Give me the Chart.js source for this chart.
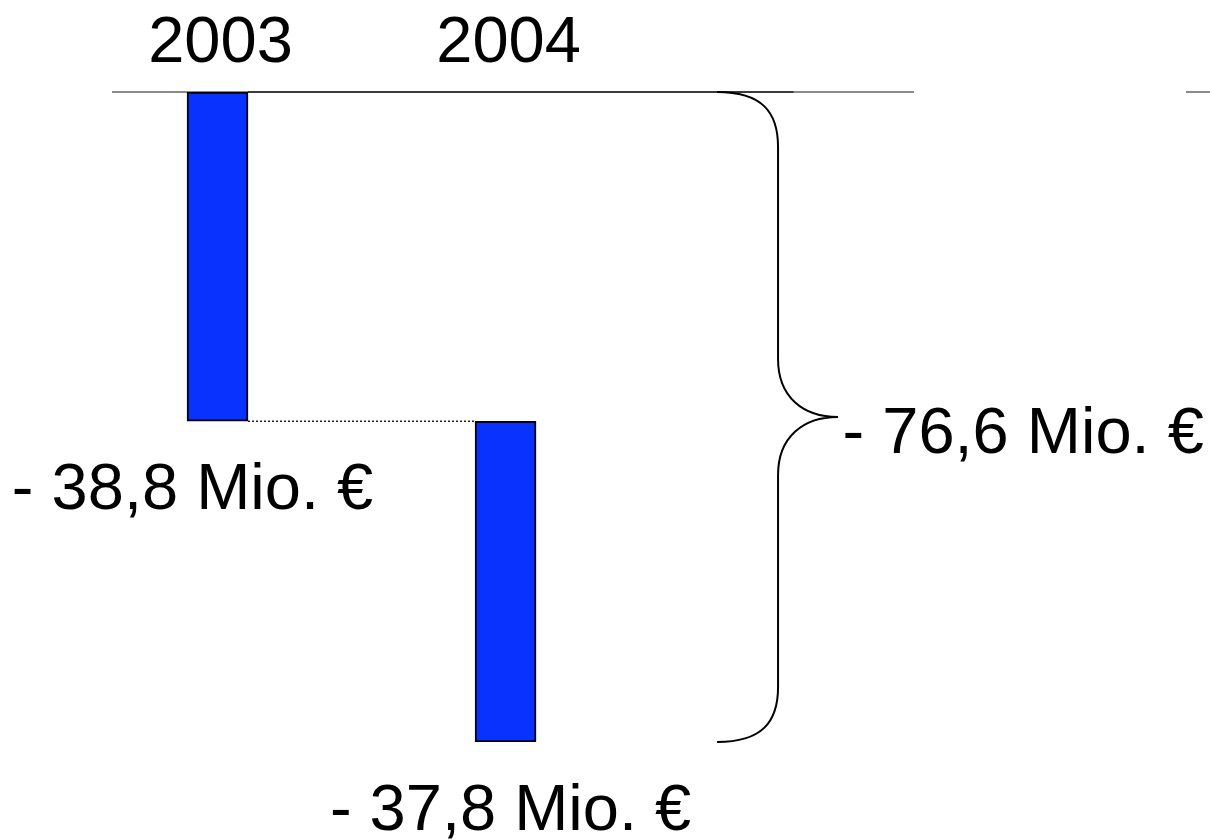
<!DOCTYPE html>
<html>
<head>
<meta charset="utf-8">
<script src="https://cdn.jsdelivr.net/npm/chart.js@4.4.1/dist/chart.umd.min.js"></script>
<style>
html,body{margin:0;padding:0;background:#fff;}
#wrap{width:1210px;height:840px;position:relative;}
</style>
</head>
<body>
<div id="wrap"><canvas id="c" width="1210" height="840"></canvas></div>
<script>
// ---- data ----
const categories = ['2003', '2004'];
const changes = [-38.8, -37.8];
const totalChange = -76.6;
const valueLabels = ['- 38,8 Mio. €', '- 37,8 Mio. €'];
const totalLabel = '- 76,6 Mio. €';

// floating bars built from the changes (waterfall)
const floating = [];
let run = 0;
changes.forEach((v, i) => {
  floating.push({ x: i + 1, y: [run, run + v] });
  run += v;
});

const FONT = '65px "Liberation Sans", Arial, sans-serif';

const decor = {
  id: 'decor',
  beforeDatasetsDraw(chart) {
    const { ctx, chartArea, scales } = chart;
    const xs = scales.x, ys = scales.y;
    const y0 = ys.getPixelForValue(0);
    const meta = chart.getDatasetMeta(0);
    const b1 = meta.data[0], b2 = meta.data[1];
    const half = b1.width / 2;
    ctx.save();
    // axis line
    ctx.strokeStyle = '#8a8a8a';
    ctx.lineWidth = 2;
    ctx.beginPath();
    ctx.moveTo(chartArea.left, y0); ctx.lineTo(chartArea.right, y0);
    ctx.moveTo(1186, y0); ctx.lineTo(1210, y0);
    ctx.stroke();
    // dark top connector
    ctx.strokeStyle = '#222';
    ctx.lineWidth = 1.5;
    ctx.beginPath();
    ctx.moveTo(b1.x + half, y0); ctx.lineTo(xs.getPixelForValue(3), y0);
    ctx.stroke();
    // dotted connector between bars
    const yMid = ys.getPixelForValue(changes[0]);
    ctx.setLineDash([2, 2]);
    ctx.lineWidth = 1.5;
    ctx.beginPath();
    ctx.moveTo(b1.x + half, yMid); ctx.lineTo(b2.x - half, yMid);
    ctx.stroke();
    ctx.setLineDash([]);
    // brace
    const yTop = y0, yBot = ys.getPixelForValue(totalChange);
    const yC = (yTop + yBot) / 2;
    const xL = b2.x + half + 181, xV = xL + 61, xT = xV + 60;
    ctx.strokeStyle = '#000';
    ctx.lineWidth = 2;
    ctx.beginPath();
    ctx.moveTo(xL, yTop);
    ctx.bezierCurveTo(xL + 45, yTop, xV, yTop + 20, xV, yTop + 55);
    ctx.lineTo(xV, yC - 58);
    ctx.bezierCurveTo(xV, yC - 20, xV + 25, yC, xT, yC);
    ctx.bezierCurveTo(xV + 25, yC, xV, yC + 20, xV, yC + 58);
    ctx.lineTo(xV, yBot - 55);
    ctx.bezierCurveTo(xV, yBot - 20, xL + 45, yBot, xL, yBot);
    ctx.stroke();
    ctx.restore();
  },
  afterDatasetsDraw(chart) {
    const { ctx, scales } = chart;
    const xs = scales.x, ys = scales.y;
    const meta = chart.getDatasetMeta(0);
    ctx.save();
    ctx.fillStyle = '#000';
    ctx.font = FONT;
    ctx.textBaseline = 'alphabetic';
    ctx.textAlign = 'center';
    const y0 = ys.getPixelForValue(0);
    categories.forEach((c, i) => {
      ctx.fillText(c, xs.getPixelForValue(i + 1) + 3, y0 - 30);
    });
    let cum = 0;
    changes.forEach((v, i) => {
      cum += v;
      const bx = meta.data[i].x;
      ctx.fillText(valueLabels[i], bx + (i === 0 ? -25 : 5), ys.getPixelForValue(cum) + 88);
    });
    ctx.textAlign = 'left';
    const yC = (ys.getPixelForValue(0) + ys.getPixelForValue(totalChange)) / 2;
    ctx.fillText(totalLabel, meta.data[1].x + 337, yC + 36);
    ctx.restore();
  }
};

new Chart(document.getElementById('c'), {
  type: 'bar',
  data: {
    datasets: [{
      data: floating,
      backgroundColor: '#0A32FF',
      borderColor: '#000',
      borderWidth: 2,
      borderSkipped: false,
      barThickness: 61
    }]
  },
  options: {
    responsive: false,
    animation: false,
    layout: { padding: { top: 92, left: 112, right: 296, bottom: 98 } },
    plugins: { legend: { display: false }, tooltip: { enabled: false } },
    scales: {
      x: { type: 'linear', display: false, min: 0.6337, max: 3.418, offset: false },
      y: { display: false, min: totalChange, max: 0 }
    }
  },
  plugins: [decor]
});
</script>
</body>
</html>
